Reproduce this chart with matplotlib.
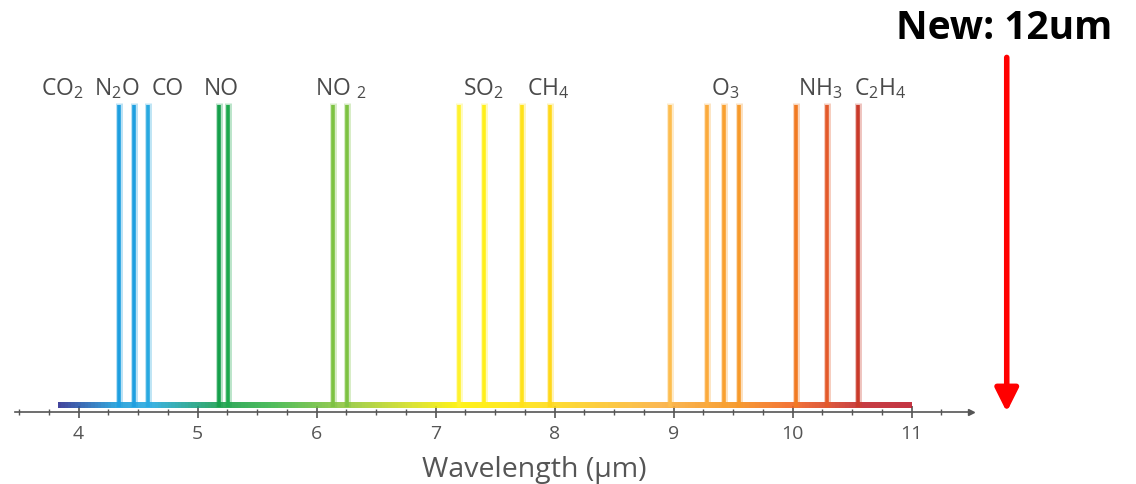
import matplotlib.pyplot as plt
from matplotlib.colors import LinearSegmentedColormap
import numpy as np

plt.rcParams['font.family'] = ['Open Sans', 'DejaVu Sans']
plt.rcParams['mathtext.default'] = 'regular'

# absorption lines (um)
peaks = [4.34, 4.47, 4.58, 5.18, 5.26, 6.14, 6.26, 7.20, 7.41, 7.73, 7.96,
         8.97, 9.28, 9.42, 9.55, 10.03, 10.29, 10.55]
peak_colors = ['#1E9FE0', '#1E9FE0', '#29A9E0', '#16A04B', '#1EA84E', '#7DC242', '#7DC242',
               '#FFF22E', '#FFEF1A', '#FFE21A', '#FFD81A', '#FDBD4F', '#FBAA3C', '#F9A030',
               '#F79A2C', '#F17A22', '#E35A2A', '#C93A2A']

labels = ['CO$_2$', 'N$_2$O', 'CO', 'NO', 'NO $_2$', 'SO$_2$', 'CH$_4$', 'O$_3$', 'NH$_3$', 'C$_2$H$_4$']
label_x = [3.86, 4.32, 4.75, 5.2, 6.2, 7.4, 7.95, 9.43, 10.23, 10.74]

spectrum_range = [3.83, 11.0]
new_wl = 11.8

# spectrum colour ramp
stops = [(3.83, '#2E3192'), (4.3, '#1C9CD8'), (4.6, '#27AAE1'), (5.2, '#1A9E4A'),
         (5.6, '#39B54A'), (6.2, '#8DC63F'), (6.8, '#D7E021'), (7.2, '#FFF200'),
         (7.9, '#FFDE17'), (8.9, '#FBB040'), (9.5, '#F7941D'), (10.0, '#F26522'),
         (10.6, '#C1272D'), (11.0, '#BE1E2D')]
lo, hi = stops[0][0], stops[-1][0]
cmap = LinearSegmentedColormap.from_list('spec', [((x - lo) / (hi - lo), c) for x, c in stops])

fig = plt.figure(figsize=(11.36, 4.84), dpi=100)
ax = fig.add_axes([0, 0, 1, 1])
ax.set_xlim(3.34, 3.34 + 1136 / 119)
ax.set_ylim(-72 / 307, 412 / 307)

# baseline with gradient
grad = np.linspace(0, 1, 256).reshape(1, -1)
ax.imshow(grad, cmap=cmap, aspect='auto', extent=[spectrum_range[0], spectrum_range[1], 0.013, 0.03],
          zorder=2, alpha=0.9)

# peaks
ax.vlines(peaks, 0.015, 1.005, colors=peak_colors, linewidth=5.0, alpha=0.3, zorder=3)
ax.vlines(peaks, 0.015, 1.0, colors=peak_colors, linewidth=2.6, zorder=3)

for lab, x in zip(labels, label_x):
    ax.text(x, 1.032, lab, ha='center', va='baseline', fontsize=16.5, color='#4a4a4a')

# axis
for s in ['top', 'right', 'left']:
    ax.spines[s].set_visible(False)
ax.spines['bottom'].set_position(('data', 0))
ax.spines['bottom'].set_bounds(3.47, 11.5)
ax.spines['bottom'].set_color('#555555')
ax.spines['bottom'].set_linewidth(1.2)
ax.plot([11.5], [0], marker='>', markersize=5, color='#555555', clip_on=False)
ax.set_yticks([])
ax.set_xticks(range(4, 12))
ax.set_xticks(np.arange(3.5, 11.3, 0.25), minor=True)
ax.tick_params(axis='x', which='major', direction='inout', length=9, width=1.2, color='#555555',
               labelsize=14, labelcolor='#555555', pad=5)
ax.tick_params(axis='x', which='minor', direction='inout', length=5, width=1, color='#555555')
ax.text(7.83, -0.19, 'Wavelength (μm)', ha='center', va='center', fontsize=20.5, color='#555555')

# new wavelength marker
ax.annotate('', xy=(new_wl, 0.0), xytext=(new_wl, 1.155),
            arrowprops=dict(arrowstyle='-|>,head_width=0.7,head_length=1.4', color='#FF0000', lw=4,
                            shrinkA=0, shrinkB=0))
ax.text(new_wl - 0.02, 1.25, 'New: 12um', ha='center', va='center', fontsize=28, fontweight='bold',
        color='black')

fig.savefig('out.png', dpi=100)
